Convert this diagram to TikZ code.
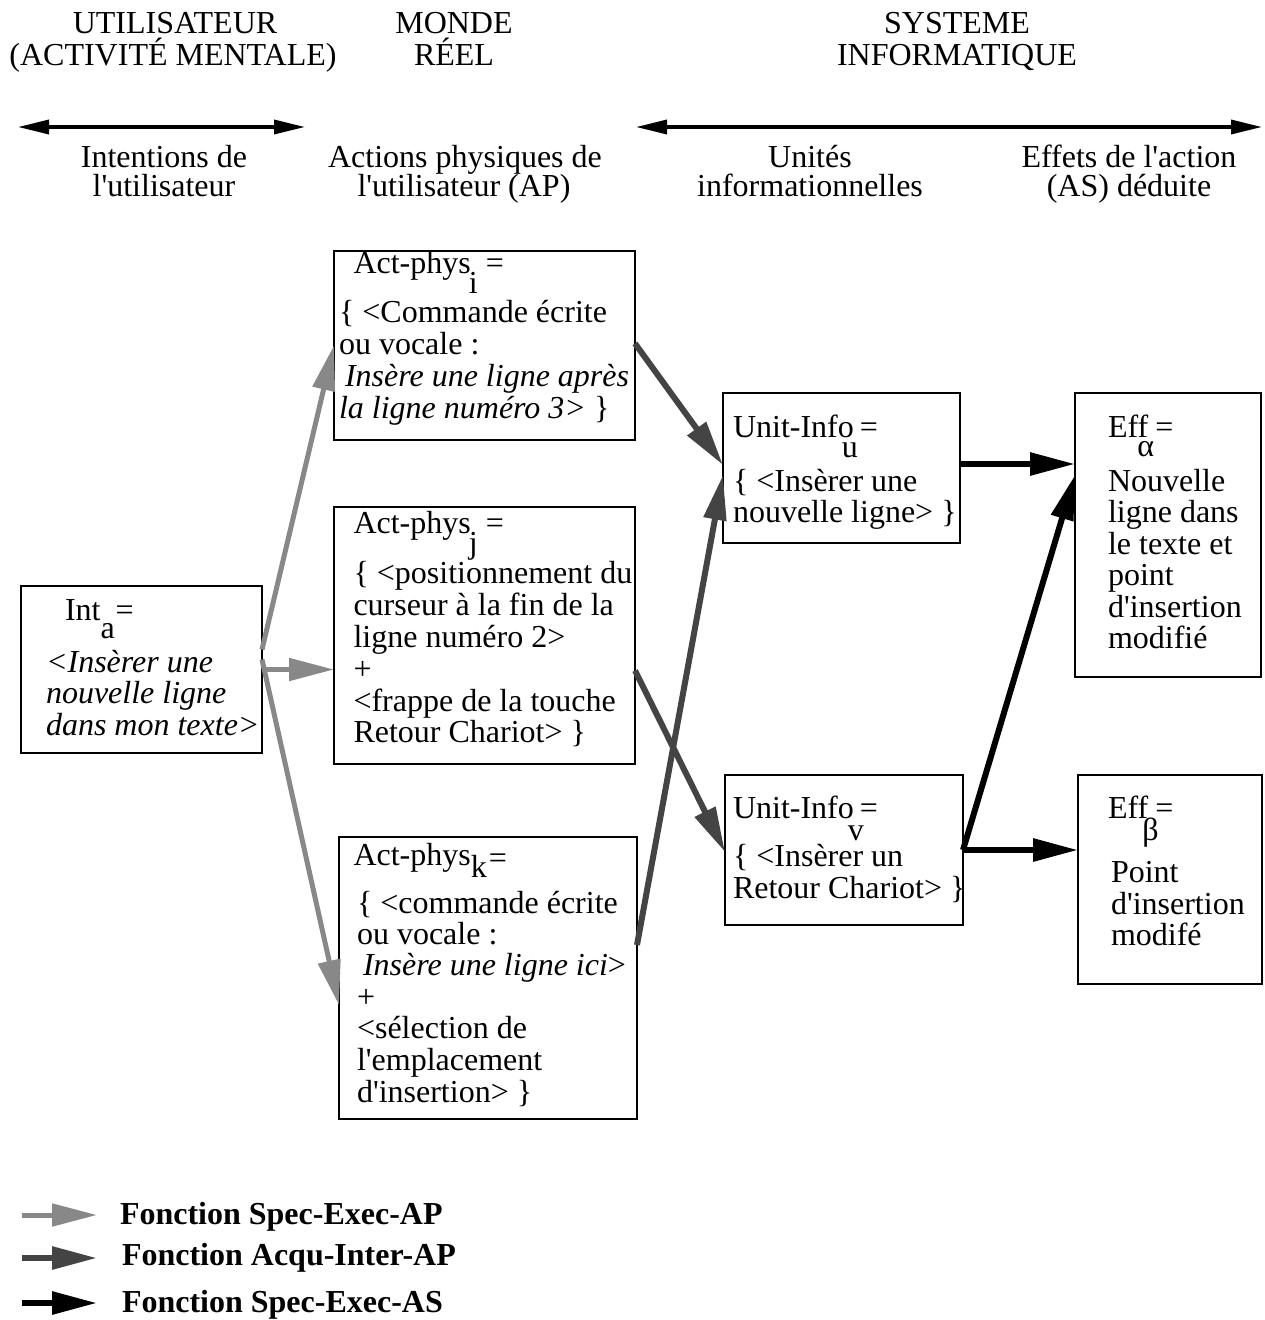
\documentclass[tikz,border=0pt]{standalone}
\usepackage{fontspec}
\setmainfont{Liberation Serif}
\usetikzlibrary{arrows.meta,calc}
\newcommand\myfs{\fontsize{32}{33}\selectfont}
\newcommand\ap{\textquotesingle}
\newcommand\sbx[3]{\rlap{\kern#1\raisebox{#2}{#3}}}
\definecolor{lgray}{HTML}{888888}
\definecolor{dgray}{HTML}{444444}
\begin{document}
\begin{tikzpicture}[x=1pt,y=-1pt,
  every node/.style={inner sep=0pt,outer sep=0pt},
  t/.style={anchor=base west,font=\myfs},
  tc/.style={anchor=base,font=\myfs},
  tb/.style={anchor=base west,font=\myfs\bfseries},
  box/.style={draw,line width=2.5pt},
  gr/.style={color=lgray,line width=5pt,-{Triangle[length=45pt,width=22pt]}},
  dk/.style={color=dgray,line width=6pt,-{Triangle[length=45pt,width=22pt]}},
  bk/.style={color=black,line width=6pt,-{Triangle[length=45pt,width=22pt]}},
  hd/.style={line width=3.5pt,{Triangle[length=31pt,width=14pt]}-{Triangle[length=31pt,width=14pt]}}
]
\useasboundingbox (0,0) rectangle (1264,1320);

% headers
\node[tc] (h1a) at (175,33) {UTILISATEUR};
\node[tc] (h1b) at (173,65) {(ACTIVITÉ MENTALE)};
\node[tc] (h2a) at (454,33) {MONDE};
\node[tc] (h2b) at (454,65) {RÉEL};
\node[tc] (h3a) at (957,33) {SYSTEME};
\node[tc] (h3b) at (957,65) {INFORMATIQUE};
\coordinate (ha1) at (18,127);
\coordinate (ha2) at (305,127);
\coordinate (hb1) at (636,127);
\coordinate (hb2) at (1262,127);
\draw[hd] (ha1) -- (ha2);
\draw[hd] (hb1) -- (hb2);
\node[tc] (c1a) at (164,167) {Intentions de};
\node[tc] (c1b) at (164,196) {l\ap utilisateur};
\node[tc] (c2a) at (465,167) {Actions physiques de};
\node[tc] (c2b) at (464,196) {l\ap utilisateur (AP)};
\node[tc] (c3a) at (810,167) {Unités};
\node[tc] (c3b) at (810,196) {informationnelles};
\node[tc] (c4a) at (1129,167) {Effets de l\ap action};
\node[tc] (c4b) at (1129,196) {(AS) déduite};

% boxes
\node[box,minimum width=241pt,minimum height=167pt] (inta) at (141.5,669.5) {};
\node[box,minimum width=301pt,minimum height=189pt] (ai) at (484.5,345.5) {};
\node[box,minimum width=301pt,minimum height=257pt] (aj) at (484.5,635.5) {};
\node[box,minimum width=298pt,minimum height=282pt] (ak) at (488,978) {};
\node[box,minimum width=237pt,minimum height=150pt] (uu) at (841.5,468) {};
\node[box,minimum width=238pt,minimum height=150pt] (uv) at (844,850) {};
\node[box,minimum width=186pt,minimum height=284pt] (ea) at (1168,535) {};
\node[box,minimum width=184pt,minimum height=209pt] (eb) at (1170,879.5) {};

% Int_a
\node[t] (ia0) at (65,620) {Int\sbx{0pt}{-18pt}{a}\kern15pt=};
\node[t] (ia1) at (46,672) {\itshape <Insèrer une};
\node[t] (ia2) at (46,703.5) {\itshape nouvelle ligne};
\node[t] (ia3) at (46,735) {\itshape dans mon texte>};

% Act-phys_i
\node[t] (ai0) at (353.5,273) {Act-phys\sbx{-2pt}{-20pt}{i}\kern15pt=};
\node[t] (ai1) at (339,322) {\{ <Commande écrite};
\node[t] (ai2) at (339,354) {ou vocale :};
\node[t] (ai3) at (345,386) {\itshape Insère une ligne après};
\node[t] (ai4) at (339,418) {{\itshape la ligne numéro 3>} \}};

% Act-phys_j
\node[t] (aj0) at (353.5,533) {Act-phys\sbx{-2pt}{-20pt}{j}\kern15pt=};
\node[t] (aj1) at (353.5,583) {\{ <positionnement du};
\node[t] (aj2) at (353.5,615) {curseur à la fin de la};
\node[t] (aj3) at (353.5,647) {ligne numéro 2>};
\node[t] (aj4) at (353.5,679) {+};
\node[t] (aj5) at (353.5,711) {<frappe de la touche};
\node[t] (aj6) at (353.5,742) {Retour Chariot> \}};

% Act-phys_k
\node[t] (ak0) at (353.5,865) {Act-phys\sbx{0pt}{-12pt}{k}\kern18pt\raisebox{-3pt}{=}};
\node[t] (ak1) at (357,913) {\{ <commande écrite};
\node[t] (ak2) at (357,944) {ou vocale :};
\node[t] (ak3) at (363,975) {{\itshape Insère une ligne ici}>};
\node[t] (ak4) at (357,1007) {+};
\node[t] (ak5) at (357,1038) {<sélection de};
\node[t] (ak6) at (357,1070) {l\ap emplacement};
\node[t] (ak7) at (357,1102) {d\ap insertion> \}};

% Unit-Info_u
\node[t] (uu0) at (733,437) {Unit-Info\sbx{-12pt}{-20pt}{u}\kern6pt=};
\node[t] (uu1) at (733,491) {\{ <Insèrer une};
\node[t] (uu2) at (733,522) {nouvelle ligne> \}};

% Unit-Info_v
\node[t] (uv0) at (733,818) {Unit-Info\sbx{-6pt}{-22pt}{v}\kern6pt=};
\node[t] (uv1) at (733,866) {\{ <Insèrer un};
\node[t] (uv2) at (733,898) {Retour Chariot> \}};

% Eff_alpha
\node[t] (ea0) at (1108,437) {Eff\sbx{-11pt}{-19pt}{α}\kern7pt=};
\node[t] (ea1) at (1108,491) {Nouvelle};
\node[t] (ea2) at (1108,522.5) {ligne dans};
\node[t] (ea3) at (1108,554) {le texte et};
\node[t] (ea4) at (1108,585.5) {point};
\node[t] (ea5) at (1108,617) {d\ap insertion};
\node[t] (ea6) at (1108,648.5) {modifié};

% Eff_beta
\node[t] (eb0) at (1108,818) {Eff\sbx{-6pt}{-22pt}{β}\kern7pt=};
\node[t] (eb1) at (1111,882) {Point};
\node[t] (eb2) at (1111,914) {d\ap insertion};
\node[t] (eb3) at (1111,945) {modifé};

% connectors
\draw[gr] ($(inta.east)+(0,-20)$) -- (ai.west);
\draw[gr] (inta.east) -- (inta.east -| aj.west);
\draw[gr] ($(inta.east)+(0,-10)$) -- ($(ak.west)+(0,27)$);
\draw[dk] ($(ai.east)+(0,-2)$) -- ($(uu.west)+(0,-3)$);
\draw[dk] ($(aj.east)+(0,35)$) -- ($(uv.west)+(0,2)$);
\draw[dk] ($(ak.east)+(0,-33)$) -- ($(uu.west)+(0,7)$);
\draw[bk] ($(uu.east)+(0,-4)$) coordinate (b1) -- (b1 -| ea.west);
\draw[bk] (uv.east) -- (uv.east -| eb.west);
\draw[bk] (uv.east) -- ($(ea.west)+(0,-60)$);

% legend
\coordinate (l1s) at (22,1215); \coordinate (l1e) at (97,1215);
\coordinate (l2s) at (22,1258); \coordinate (l2e) at (97,1258);
\coordinate (l3s) at (22,1303); \coordinate (l3e) at (97,1303);
\draw[gr] (l1s) -- (l1e);
\draw[dk] (l2s) -- (l2e);
\draw[bk] (l3s) -- (l3e);
\node[tb] (lt1) at (120,1224) {Fonction Spec-Exec-AP};
\node[tb] (lt2) at (122,1265) {Fonction Acqu-Inter-AP};
\node[tb] (lt3) at (122,1312) {Fonction Spec-Exec-AS};
\end{tikzpicture}
\end{document}
